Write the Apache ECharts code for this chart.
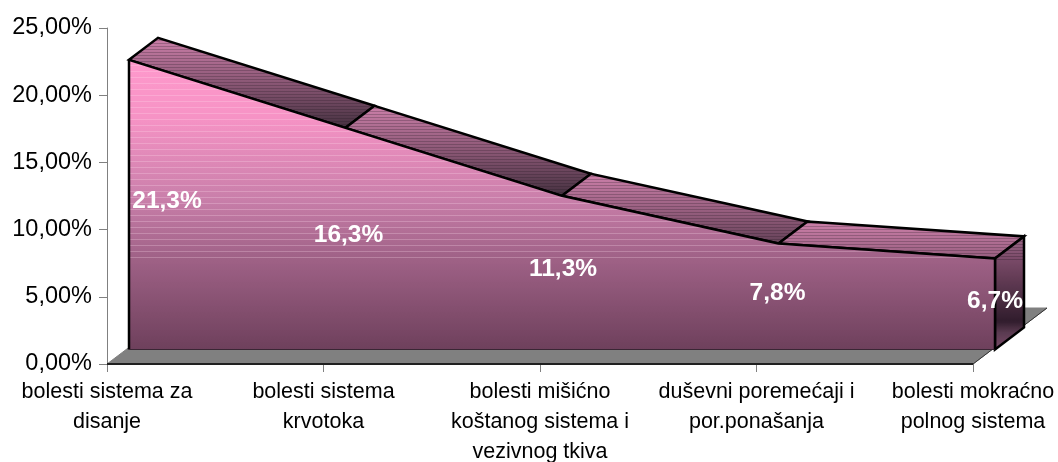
<!DOCTYPE html>
<html>
<head>
<meta charset="utf-8">
<style>
  html, body { margin: 0; padding: 0; background: #fff; }
  #main { width: 1058px; height: 462px; }
</style>
<script src="https://cdn.jsdelivr.net/npm/echarts@6/dist/echarts.min.js"></script>
</head>
<body>
<div id="main"></div>
<script>
var categories = [
  'bolesti sistema za\ndisanje',
  'bolesti sistema\nkrvotoka',
  'bolesti mišićno\nkoštanog sistema i\nvezivnog tkiva',
  'duševni poremećaji i\npor.ponašanja',
  'bolesti mokraćno\npolnog sistema'
];
var values = [21.3, 16.3, 11.3, 7.8, 6.7];
var yTicks = { min: 0, max: 25, interval: 5 };

// fake 3d: how far the back of the ribbon and of the floor sit from their front edge
var depth = { x: 29, y: -22 };
var floorDepth = { x: 74, y: -56 };
var labelOffsets = [[38, -3], [3, -3], [1, -3], [-1, -3], [0, -3]];

function mix(a, b, t) {
  var out = [];
  for (var i = 0; i < 3; i++) out.push(Math.round(a[i] + (b[i] - a[i]) * t));
  return 'rgb(' + out.join(',') + ')';
}

// vertical gradient with thin horizontal bands, the old office chart look
function banded(y0, y1, ramp, step, lineTint, stripeUntil) {
  var stops = [];
  var len = y1 - y0;
  function colorAt(t) {
    for (var i = 1; i < ramp.length; i++) {
      if (t <= ramp[i][0]) {
        return (ramp[i][1]).map(function (c, k) {
          var p = ramp[i - 1];
          return p[1][k] + (c - p[1][k]) * (t - p[0]) / (ramp[i][0] - p[0]);
        });
      }
    }
    return ramp[ramp.length - 1][1];
  }
  for (var y = 0; y < len; y += step) {
    var t = y / len;
    var t2 = Math.min((y + step - 1) / len, 1);
    var t3 = Math.min((y + step) / len, 1);
    var c = colorAt(t);
    var c2 = colorAt(t2);
    var tint = t < stripeUntil ? 0.25 : 0;
    stops.push({ offset: t, color: mix(c, c, 0) });
    stops.push({ offset: t2, color: mix(c2, c2, 0) });
    stops.push({ offset: t2, color: mix(c2, lineTint, tint) });
    stops.push({ offset: t3, color: mix(c2, lineTint, tint) });
  }
  return { type: 'linear', x: 0, y: y0, x2: 0, y2: y1, global: true, colorStops: stops };
}

var frontRamp = [
  [0, [255, 153, 204]], [0.2, [246, 147, 197]], [0.48, [201, 127, 170]],
  [0.68, [160, 98, 135]], [1, [110, 64, 92]]
];
var topRamp = [[0, [205, 128, 170]], [0.5, [140, 88, 118]], [1, [72, 50, 66]]];
var sideRamp = [
  [0, [160, 106, 140]], [0.2, [122, 74, 104]], [0.75, [48, 28, 44]],
  [0.85, [90, 58, 80]], [1, [122, 74, 104]]
];

var segments = [];
for (var i = 0; i < values.length - 1; i++) {
  segments.push([i, values[i], values[i + 1]]);
}

var labelData = values.map(function (v, i) {
  return {
    value: [i, v / 2],
    label: {
      offset: labelOffsets[i],
      formatter: v.toFixed(1).replace('.', ',') + '%'
    }
  };
});

function renderFloor(params, api) {
  if (params.dataIndex > 0) return;
  var a = api.coord([0, 0]);
  var b = api.coord([values.length - 1, 0]);
  var bBack = [b[0] + floorDepth.x, b[1] + floorDepth.y];
  return {
    type: 'group',
    children: [{
      type: 'polygon',
      shape: { points: [a, b, bBack, [a[0] + floorDepth.x, a[1] + floorDepth.y]] },
      style: { fill: '#808080', stroke: '#808080', lineWidth: 1 }
    }, {
      type: 'line',
      shape: { x1: a[0], y1: a[1], x2: b[0], y2: b[1] },
      style: { stroke: '#000', lineWidth: 1.5 }
    }, {
      type: 'line',
      shape: { x1: b[0], y1: b[1], x2: bBack[0], y2: bBack[1] },
      style: { stroke: '#333', lineWidth: 1 }
    }]
  };
}

function renderTop(params, api) {
  var p0 = api.coord([api.value(0), api.value(1)]);
  var p1 = api.coord([api.value(0) + 1, api.value(2)]);
  var q0 = [p0[0] + depth.x, p0[1] + depth.y];
  var q1 = [p1[0] + depth.x, p1[1] + depth.y];
  return {
    type: 'polygon',
    shape: { points: [p0, p1, q1, q0] },
    style: {
      fill: banded(q0[1], q0[1] + 88, topRamp, 3, [30, 20, 30], 1),
      stroke: '#000',
      lineWidth: 2.5
    }
  };
}

function renderSide(params, api) {
  var top = api.coord([values.length - 1, values[values.length - 1]]);
  var bottom = api.coord([values.length - 1, 0]);
  if (params.dataIndex > 0) return;
  return {
    type: 'polygon',
    shape: { points: [top, bottom, [bottom[0] + depth.x, bottom[1] + depth.y], [top[0] + depth.x, top[1] + depth.y]] },
    style: {
      fill: banded(top[1] + depth.y, bottom[1], sideRamp, 3, [20, 10, 20], 0.2),
      stroke: '#000',
      lineWidth: 2.5
    }
  };
}

function renderEdges(params, api) {
  if (params.dataIndex > 0) return;
  var last = values.length - 1;
  var a = api.coord([0, values[0]]);
  var b = api.coord([0, 0]);
  var c = api.coord([last, 0]);
  var d = api.coord([last, values[last]]);
  return {
    type: 'group',
    children: [{
      type: 'line',
      shape: { x1: a[0], y1: a[1], x2: b[0], y2: b[1] },
      style: { stroke: '#000', lineWidth: 2.5 }
    }, {
      type: 'line',
      shape: { x1: b[0], y1: b[1], x2: c[0], y2: c[1] },
      style: { stroke: '#3a2634', lineWidth: 1 }
    }, {
      type: 'line',
      shape: { x1: c[0], y1: c[1], x2: d[0], y2: d[1] },
      style: { stroke: '#000', lineWidth: 2.5 }
    }]
  };
}

var myChart = echarts.init(document.getElementById('main'), null, { renderer: 'canvas' });

var option = {
  backgroundColor: '#ffffff',
  animation: false,
  textStyle: { fontFamily: 'Liberation Sans' },
  grid: [
    { left: 107, width: 866, top: 28, height: 336, outerBoundsMode: 'none' },
    { left: 129, width: 866, top: 9.5, height: 340, outerBoundsMode: 'none' }
  ],
  xAxis: [{
    type: 'category',
    gridIndex: 0,
    data: categories,
    boundaryGap: false,
    axisLine: { lineStyle: { color: '#808080' } },
    axisTick: { show: true, length: 8, alignWithLabel: true, lineStyle: { color: '#808080' } },
    axisLabel: {
      interval: 0,
      color: '#000',
      fontFamily: 'Liberation Sans',
      fontSize: 21.5,
      lineHeight: 30,
      margin: 13
    },
    splitLine: { show: false }
  }, {
    type: 'category',
    gridIndex: 1,
    data: categories,
    boundaryGap: false,
    show: false
  }],
  yAxis: [{
    type: 'value',
    gridIndex: 0,
    min: yTicks.min,
    max: yTicks.max,
    interval: yTicks.interval,
    axisLine: { show: true, lineStyle: { color: '#808080' } },
    axisTick: { show: true, length: 8, lineStyle: { color: '#808080' } },
    axisLabel: {
      color: '#000',
      fontFamily: 'Liberation Sans',
      fontSize: 23.5,
      margin: 15,
      padding: [0, 0, 5, 0],
      formatter: function (v) { return v.toFixed(2).replace('.', ',') + '%'; }
    },
    splitLine: { show: false }
  }, {
    type: 'value',
    gridIndex: 1,
    min: yTicks.min,
    max: yTicks.max,
    show: false
  }],
  series: [
    {
      type: 'custom',
      xAxisIndex: 0,
      yAxisIndex: 0,
      z: 1,
      silent: true,
      clip: false,
      renderItem: renderFloor,
      data: [[0, 0]]
    },
    {
      type: 'custom',
      xAxisIndex: 1,
      yAxisIndex: 1,
      z: 2,
      silent: true,
      clip: false,
      renderItem: renderTop,
      encode: { x: 0, y: 1 },
      data: segments
    },
    {
      type: 'custom',
      xAxisIndex: 1,
      yAxisIndex: 1,
      z: 2,
      silent: true,
      clip: false,
      renderItem: renderSide,
      data: [[0, 0]]
    },
    {
      type: 'line',
      name: 'front',
      xAxisIndex: 1,
      yAxisIndex: 1,
      z: 3,
      data: values,
      symbol: 'none',
      silent: true,
      lineStyle: { color: '#000', width: 2.5 },
      areaStyle: { opacity: 1, color: banded(60, 349.5, frontRamp, 6, [255, 225, 240], 0.68) }
    },
    {
      type: 'custom',
      xAxisIndex: 1,
      yAxisIndex: 1,
      z: 4,
      silent: true,
      clip: false,
      renderItem: renderEdges,
      data: [[0, 0]]
    },
    {
      type: 'scatter',
      xAxisIndex: 1,
      yAxisIndex: 1,
      z: 5,
      silent: true,
      symbolSize: 0,
      itemStyle: { opacity: 1 },
      data: labelData,
      label: {
        show: true,
        position: 'inside',
        color: '#fff',
        opacity: 1,
        fontFamily: 'Liberation Sans',
        fontWeight: 'bold',
        fontSize: 24.5
      }
    }
  ]
};

myChart.setOption(option);
</script>
</body>
</html>
